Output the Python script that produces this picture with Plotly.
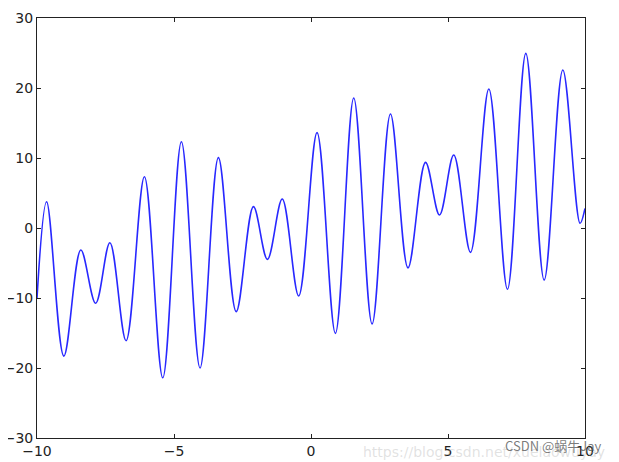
import plotly.graph_objects as go

# turning points of the curve
x_vals = [-10.0, -9.65, -9.02, -8.40, -7.86, -7.34, -6.75, -6.08, -5.41, -4.73,
          -4.05, -3.38, -2.73, -2.10, -1.59, -1.05, -0.45, 0.22, 0.89, 1.56,
          2.23, 2.90, 3.54, 4.18, 4.69, 5.21, 5.82, 6.49, 7.17, 7.84,
          8.51, 9.19, 9.82, 10.0]
y_vals = [-10.0, 3.76, -18.3, -3.14, -10.76, -2.1, -16.1, 7.33, -21.4, 12.33,
          -20.0, 10.05, -11.95, 3.05, -4.48, 4.14, -9.71, 13.62, -15.05, 18.57,
          -13.7, 16.29, -5.7, 9.38, 1.86, 10.43, -3.48, 19.86, -8.76, 24.95,
          -7.43, 22.57, 0.67, 2.8]

x_ticks = [-10, -5, 0, 5, 10]
y_ticks = [-30, -20, -10, 0, 10, 20, 30]

fig = go.Figure()
fig.add_trace(
    go.Scatter(
        x=x_vals,
        y=y_vals,
        mode="lines",
        line=dict(color="rgb(40,40,255)", width=1.6, shape="spline", smoothing=1.0),
        showlegend=False,
    )
)

axis_style = dict(
    showgrid=False,
    zeroline=False,
    showline=True,
    linecolor="#222",
    linewidth=1,
    mirror="ticks",
    ticks="inside",
    ticklen=4,
    tickcolor="#222",
    automargin=False,
    tickfont=dict(family="DejaVu Sans", size=14, color="#222"),
)

fig.update_xaxes(range=[-10, 10], tickvals=x_ticks, **axis_style)
fig.update_yaxes(range=[-30, 30], tickvals=y_ticks, **axis_style)

# watermark text at the bottom right
fig.add_annotation(
    x=1.04, y=-0.034, xref="paper", yref="paper", xanchor="right", yanchor="middle",
    text="https://blog.csdn.net/xuelaowuyay", showarrow=False,
    font=dict(family="DejaVu Sans", size=14, color="rgba(170,170,170,0.35)"),
)
fig.add_annotation(
    x=1.035, y=-0.017, xref="paper", yref="paper", xanchor="right", yanchor="middle",
    text="CSDN @蜗牛Jay", showarrow=False,
    font=dict(family="Noto Sans CJK SC", size=13, color="rgba(80,80,80,0.75)"),
)

# the page body adds 8px, so margins are shifted to land the axes where they should
fig.update_layout(
    width=619,
    height=462,
    margin=dict(l=29, r=42, t=10, b=32),
    paper_bgcolor="white",
    plot_bgcolor="white",
)

fig.write_html("out.html")
